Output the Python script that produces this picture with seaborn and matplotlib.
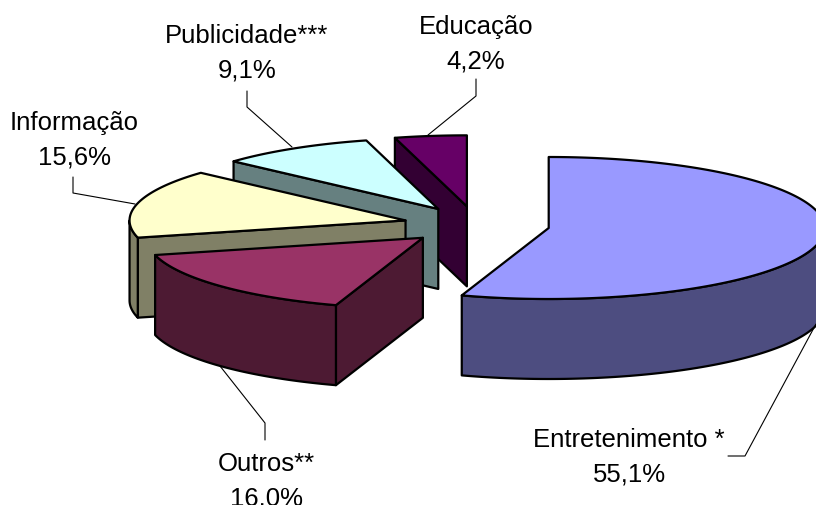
import numpy as np
import seaborn as sns
import matplotlib.pyplot as plt

# clockwise from 12 o'clock
names = ["Entretenimento *", "Outros**", "Informação", "Publicidade***", "Educação"]
values = [55.1, 16.0, 15.6, 9.1, 4.2]
value_labels = ["55,1%", "16,0%", "15,6%", "9,1%", "4,2%"]
top_colors = ["#9999FF", "#993366", "#FFFFCC", "#CCFFFF", "#660066"]
side_colors = ["#4D4D80", "#4D1A33", "#808066", "#668080", "#330033"]

# label centre and leader line for each slice, in pixels
label_pos = [(629, 440), (266, 464), (74, 123), (247, 36), (476, 27)]
leaders = [
    [(728, 457), (745, 457), (816, 325)],
    [(265, 441), (265, 424), (220, 367)],
    [(73, 178), (73, 194), (135, 205)],
    [(247, 92), (247, 108), (292, 148)],
    [(476, 80), (476, 97), (428, 136)],
]

cx, cy = 476.5, 226
rx, ry = 276, 71
depth = 80
explode = 0.265

sns.set_theme(style="white")
plt.rcParams["font.family"] = ["Liberation Sans", "DejaVu Sans"]

fig, ax = plt.subplots(figsize=(8.16, 5.06), dpi=100)
fig.subplots_adjust(0, 0, 1, 1)
ax.set_xlim(0, 816)
ax.set_ylim(506, 0)
ax.axis("off")


def rim(px, py, a0, a1):
    a = np.radians(np.linspace(a0, a1, max(int(abs(a1 - a0)) * 2, 2)))
    return px + rx * np.sin(a), py - ry * np.cos(a)


def face(x, y, color, z):
    ax.fill(x, y, facecolor=color, edgecolor="black", linewidth=1.6,
            joinstyle="round", zorder=z)


angles = np.cumsum([0] + values) / sum(values) * 360
# back slices first, the front one last
order = [4, 3, 2, 0, 1]
for z, i in enumerate(order):
    a0, a1 = angles[i], angles[i + 1]
    mid = np.radians((a0 + a1) / 2)
    px = cx + explode * rx * np.sin(mid)
    py = cy - explode * ry * np.cos(mid)
    base = z * 10 + 1

    # cut wall, only when it faces the viewer
    if np.sin(np.radians(a0)) < -1e-6:
        ex, ey = rim(px, py, a0, a0)
        face([px, ex[0], ex[0], px], [py, ey[0], ey[0] + depth, py + depth],
             side_colors[i], base)
    # outer wall on the front half of the rim
    lo, hi = max(a0, 90), min(a1, 270)
    if lo < hi:
        wx, wy = rim(px, py, lo, hi)
        face(np.r_[wx, wx[::-1]], np.r_[wy, wy[::-1] + depth], side_colors[i], base + 1)
    # top
    tx, ty = rim(px, py, a0, a1)
    face(np.r_[px, tx], np.r_[py, ty], top_colors[i], base + 2)

for name, val, (lx, ly), line in zip(names, value_labels, label_pos, leaders):
    ax.text(lx, ly, name, ha="center", va="center", fontsize=18.5, color="black", zorder=100)
    ax.text(lx, ly + 34.5, val, ha="center", va="center", fontsize=18.5, color="black", zorder=100)
    ax.plot(*zip(*line), color="black", linewidth=0.8, zorder=100)

sns.despine(ax=ax, left=True, bottom=True)
plt.savefig("out.png", dpi=100)
